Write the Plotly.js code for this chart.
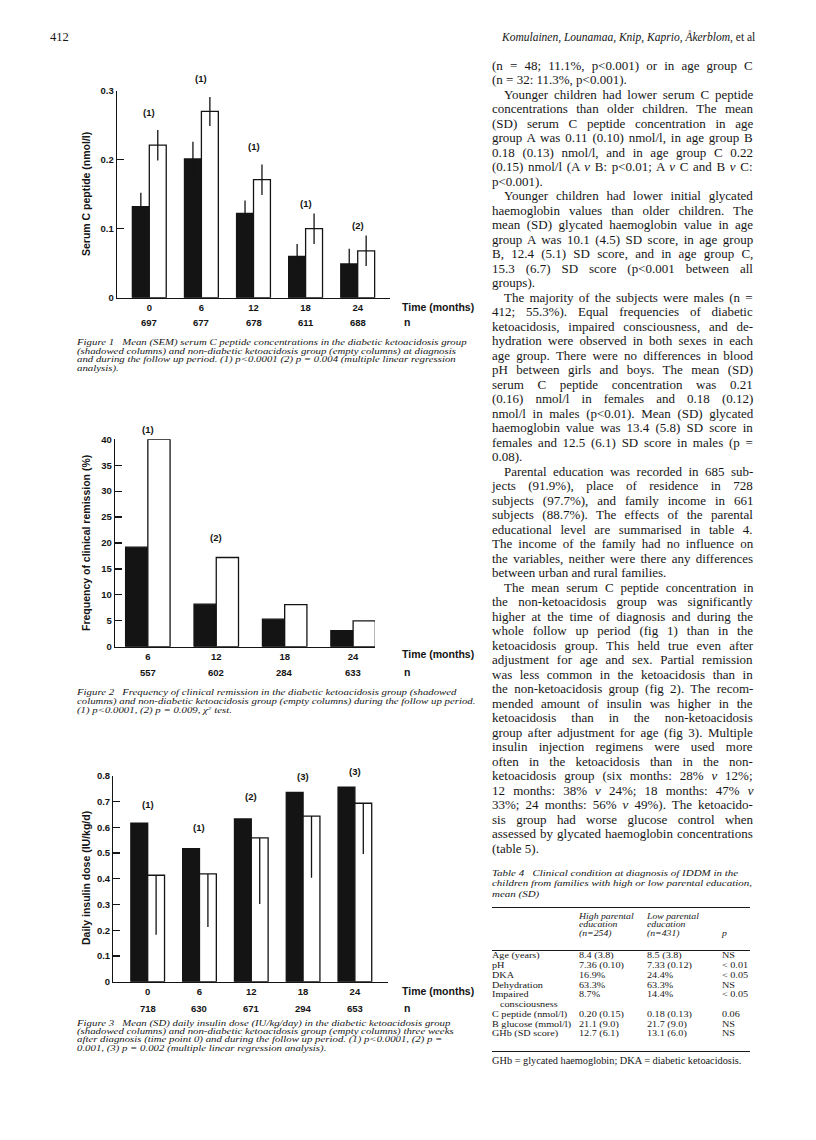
<!DOCTYPE html>
<html><head><meta charset="utf-8">
<script src="https://cdn.plot.ly/plotly-3.0.1.min.js"></script>
<style>
body{margin:0;background:#fff}
#page{position:relative;width:816px;height:1140px;overflow:hidden;background:#fff}
#plot{position:absolute;left:0;top:0;width:816px;height:1140px}
.t{position:absolute;white-space:nowrap;color:#161616;font-family:'Liberation Serif','Times New Roman',serif}
.blk{position:absolute;color:#161616;font-family:'Liberation Serif','Times New Roman',serif;font-style:italic;transform-origin:0 0}
.blk div{white-space:nowrap}
</style>
</head><body>
<div id="page"><div id="plot"></div></div>
<script>
// ---------- DATA ----------
// Figure 1: serum C peptide (nmol/l), mean (SEM)
const fig1Times = ['0','6','12','18','24'];
const fig1N = ['697','677','678','611','688'];
const fig1Dka = [0.132, 0.201, 0.122, 0.060, 0.049];
const fig1DkaSem = [0.020, 0.025, 0.019, 0.018, 0.022];
const fig1NonDka = [0.221, 0.270, 0.171, 0.100, 0.068];
const fig1NonDkaSem = [0.022, 0.021, 0.022, 0.022, 0.022];
const fig1Sig = ['(1)','(1)','(1)','(1)','(2)'];

// Figure 2: frequency of clinical remission (%)
const fig2Times = ['6','12','18','24'];
const fig2N = ['557','602','284','633'];
const fig2Dka = [19.2, 8.2, 5.3, 3.1];
const fig2NonDka = [40.0, 17.2, 8.1, 5.0];
const fig2Sig = ['(1)','(2)','',''];

// Figure 3: daily insulin dose (IU/kg/d), mean (SD)
const fig3Times = ['0','6','12','18','24'];
const fig3N = ['718','630','671','294','653'];
const fig3Dka = [0.617, 0.517, 0.633, 0.736, 0.757];
const fig3NonDka = [0.414, 0.419, 0.559, 0.644, 0.694];
const fig3NonDkaSd = [0.231, 0.206, 0.257, 0.240, 0.197];
const fig3Sig = ['(1)','(1)','(2)','(3)','(3)'];

// Table 4
const tableCols = ['High parental<br>education<br>(n=254)', 'Low parental<br>education<br>(n=431)', 'p'];
const tableLabels = ['Age (years)','pH','DKA','Dehydration','Impaired|consciousness','C peptide (nmol/l)','B glucose (mmol/l)','GHb (SD score)'];
const tableHigh = ['8.4 (3.8)','7.36 (0.10)','16.9%','63.3%','8.7%','0.20 (0.15)','21.1 (9.0)','12.7 (6.1)'];
const tableLow = ['8.5 (3.8)','7.33 (0.12)','24.4%','63.3%','14.4%','0.18 (0.13)','21.7 (9.0)','13.1 (6.0)'];
const tableP = ['NS','< 0.01','< 0.05','NS','< 0.05','0.06','NS','NS'];

// ---------- LAYOUT HELPERS ----------
const W = 816, H = 1140;
const px = x => x / W;
const py = y => (H - y) / H;
const sans = 'Liberation Sans, Arial, Helvetica, sans-serif';
const ink = '#141414';
const tf = (s) => ({family: sans, size: s, color: ink, weight: 'bold'});

function bars(x, y, fill, xa, ya, err) {
  const t = {type:'bar', x:x, y:y, xaxis:xa, yaxis:ya, marker:{color:fill, line:{color:ink, width:1.3}},
    hoverinfo:'skip', showlegend:false, cliponaxis:false};
  if (err) t.error_y = Object.assign({type:'data', visible:true, color:ink, thickness:1.3, width:0}, err);
  return t;
}

const data = [
  bars(fig1Times, fig1Dka, ink, 'x', 'y', {array: fig1DkaSem}),
  bars(fig1Times, fig1NonDka, '#ffffff', 'x', 'y', {array: fig1NonDkaSem}),
  bars(fig2Times, fig2Dka, ink, 'x2', 'y2'),
  bars(fig2Times, fig2NonDka, '#ffffff', 'x2', 'y2'),
  bars(fig3Times, fig3Dka, ink, 'x3', 'y3'),
  bars(fig3Times, fig3NonDka, '#ffffff', 'x3', 'y3', {symmetric:false, array: fig3NonDkaSd.map(() => 0), arrayminus: fig3NonDkaSd})
];

function xax(l, r, anchor, range) {
  return {domain:[px(l), px(r)], anchor:anchor, type:'category', range:range, showline:true, linecolor:ink, linewidth:1.3,
    ticks:'', showgrid:false, zeroline:false, tickfont:tf(9.5), fixedrange:true, ticklabelstandoff:1};
}
function yax(top, bottom, anchor, range, dtick) {
  return {domain:[py(bottom), py(top)], anchor:anchor, range:range, dtick:dtick, tick0:0, ticks:'inside', ticklen:7,
    tickwidth:1.3, tickcolor:ink, showline:true, linecolor:ink, linewidth:1.3, showgrid:false, zeroline:false,
    tickfont:tf(9.5), fixedrange:true};
}

const annotations = [];
function ann(o) { annotations.push(Object.assign({showarrow:false, xanchor:'center', yanchor:'middle', font:tf(9.5)}, o)); }

function figText(xa, ya, times, ns, nY, timeY, titleText, titleY, sig, sigTop, sigShift) {
  times.forEach((t, i) => {
    ann({xref:xa, yref:'paper', x:i, y:py(nY), text:ns[i], font:tf(9.5)});
    if (sig[i]) ann({xref:xa, yref:ya, x:i, y:sigTop[i], yshift:sigShift[i], text:sig[i], font:tf(9.5)});
  });
  ann({xref:'paper', yref:'paper', x:px(400), xanchor:'left', y:py(timeY), text:'Time (months)', font:tf(10.5)});
  ann({xref:'paper', yref:'paper', x:px(402), xanchor:'left', y:py(nY), text:'n', font:tf(10.5)});
  ann({xref:'paper', yref:'paper', x:px(86), y:py(titleY), textangle:-90, text:titleText, font:tf(10.5)});
}

figText('x', 'y', fig1Times, fig1N, 322, 306.5, 'Serum C peptide (nmol/l)', 194,
  fig1Sig, fig1NonDka.map((v, i) => v + fig1NonDkaSem[i]), [18, 18, 18, 10, 10]);
figText('x2', 'y2', fig2Times, fig2N, 672, 654, 'Frequency of clinical remission (%)', 543,
  fig2Sig, fig2NonDka, [10, 20, 0, 0]);
figText('x3', 'y3', fig3Times, fig3N, 1008, 990.5, 'Daily insulin dose (IU/kg/d)', 878,
  fig3Sig, fig3Dka, [19, 21, 22, 16, 16]);

const layout = {
  width: W, height: H, margin:{l:0, r:0, t:0, b:0}, paper_bgcolor:'#fff', plot_bgcolor:'rgba(0,0,0,0)',
  barmode:'group', bargap:0.35, bargroupgap:0, showlegend:false,
  xaxis: xax(117, 390, 'y', [-0.62, 4.62]),
  yaxis: yax(90.7, 297.7, 'x', [0, 0.3], 0.1),
  xaxis2: xax(115, 375, 'y2', [-0.48, 3.32]),
  yaxis2: yax(439.3, 646.7, 'x2', [0, 40], 5),
  xaxis3: xax(113.3, 388.3, 'y3', [-0.664, 4.645]),
  yaxis3: yax(776, 981.7, 'x3', [0, 0.8], 0.1),
  annotations: annotations
};

Plotly.newPlot('plot', data, layout, {staticPlot:true, displayModeBar:false});

// ---------- PAGE TEXT ----------
const page = document.getElementById('page');
const esc = s => s.replace(/&/g,'&amp;').replace(/</g,'&lt;').replace(/>/g,'&gt;').replace(/\{v\}/g,'<i>v</i>');

function put(html, left, cy, size, lh, extra) {
  const d = document.createElement('div');
  d.className = 't';
  d.style.left = left + 'px';
  d.style.top = (cy - lh / 2) + 'px';
  d.style.fontSize = size + 'px';
  d.style.lineHeight = lh + 'px';
  if (extra) Object.assign(d.style, extra);
  d.innerHTML = html;
  page.appendChild(d);
  return d;
}

// running head
put('412', 50, 37, 12.5, 14);
const head = put('<i>Komulainen, Lounamaa, Knip, Kaprio, Åkerblom,</i> et al', 0, 37, 11.5, 14);
head.style.left = (755 - head.offsetWidth) + 'px';

// captions (italic blocks, widened horizontally like the print)
function block(lines, left, top, size, lh) {
  const b = document.createElement('div');
  b.className = 'blk';
  b.style.left = left + 'px'; b.style.top = top + 'px';
  b.style.fontSize = size + 'px'; b.style.lineHeight = lh + 'px';
  b.innerHTML = lines.map(l => '<div><span>' + l + '</span></div>').join('');
  page.appendChild(b);
  return b;
}
const capSize = 7.4;
const cap1 = block([
  'Figure 1&ensp; Mean (SEM) serum C peptide concentrations in the diabetic ketoacidosis group',
  '(shadowed columns) and non-diabetic ketoacidosis group (empty columns) at diagnosis',
  'and during the follow up period. (1) p&lt;0.0001 (2) p = 0.004 (multiple linear regression',
  'analysis).'], 77, 339, capSize, 8.6);
const capScale = 390 / cap1.querySelector('span').offsetWidth;
const cap2 = block([
  'Figure 2&ensp; Frequency of clinical remission in the diabetic ketoacidosis group (shadowed',
  'columns) and non-diabetic ketoacidosis group (empty columns) during the follow up period.',
  '(1) p&lt;0.0001, (2) p = 0.009, χ<sup style="font-size:5px;line-height:0">2</sup> test.'], 77, 687.5, capSize, 9.2);
const cap3 = block([
  'Figure 3&ensp; Mean (SD) daily insulin dose (IU/kg/day) in the diabetic ketoacidosis group',
  '(shadowed columns) and non-diabetic ketoacidosis group (empty columns) three weeks',
  'after diagnosis (time point 0) and during the follow up period. (1) p&lt;0.0001, (2) p =',
  '0.001, (3) p = 0.002 (multiple linear regression analysis).'], 77, 1019.5, capSize, 8.4);
[cap1, cap2, cap3].forEach(b => b.style.transform = 'scaleX(' + capScale + ')');

// body text column (justified lines)
const bodyLines = [
 ["(n = 48; 11.1%, p<0.001) or in age group C", "j"],
 ["(n = 32: 11.3%, p<0.001).", "e"],
 ["Younger children had lower serum C peptide", "ij"],
 ["concentrations than older children. The mean", "j"],
 ["(SD) serum C peptide concentration in age", "j"],
 ["group A was 0.11 (0.10) nmol/l, in age group B", "j"],
 ["0.18 (0.13) nmol/l, and in age group C 0.22", "j"],
 ["(0.15) nmol/l (A {v} B: p<0.01; A {v} C and B {v} C:", "j"],
 ["p<0.001).", "e"],
 ["Younger children had lower initial glycated", "ij"],
 ["haemoglobin values than older children. The", "j"],
 ["mean (SD) glycated haemoglobin value in age", "j"],
 ["group A was 10.1 (4.5) SD score, in age group", "j"],
 ["B, 12.4 (5.1) SD score, and in age group C,", "j"],
 ["15.3 (6.7) SD score (p<0.001 between all", "j"],
 ["groups).", "e"],
 ["The majority of the subjects were males (n =", "ij"],
 ["412; 55.3%). Equal frequencies of diabetic", "j"],
 ["ketoacidosis, impaired consciousness, and de-", "j"],
 ["hydration were observed in both sexes in each", "j"],
 ["age group. There were no differences in blood", "j"],
 ["pH between girls and boys. The mean (SD)", "j"],
 ["serum C peptide concentration was 0.21", "j"],
 ["(0.16) nmol/l in females and 0.18 (0.12)", "j"],
 ["nmol/l in males (p<0.01). Mean (SD) glycated", "j"],
 ["haemoglobin value was 13.4 (5.8) SD score in", "j"],
 ["females and 12.5 (6.1) SD score in males (p =", "j"],
 ["0.08).", "e"],
 ["Parental education was recorded in 685 sub-", "ij"],
 ["jects (91.9%), place of residence in 728", "j"],
 ["subjects (97.7%), and family income in 661", "j"],
 ["subjects (88.7%). The effects of the parental", "j"],
 ["educational level are summarised in table 4.", "j"],
 ["The income of the family had no influence on", "j"],
 ["the variables, neither were there any differences", "j"],
 ["between urban and rural families.", "e"],
 ["The mean serum C peptide concentration in", "ij"],
 ["the non-ketoacidosis group was significantly", "j"],
 ["higher at the time of diagnosis and during the", "j"],
 ["whole follow up period (fig 1) than in the", "j"],
 ["ketoacidosis group. This held true even after", "j"],
 ["adjustment for age and sex. Partial remission", "j"],
 ["was less common in the ketoacidosis than in", "j"],
 ["the non-ketoacidosis group (fig 2). The recom-", "j"],
 ["mended amount of insulin was higher in the", "j"],
 ["ketoacidosis than in the non-ketoacidosis", "j"],
 ["group after adjustment for age (fig 3). Multiple", "j"],
 ["insulin injection regimens were used more", "j"],
 ["often in the ketoacidosis than in the non-", "j"],
 ["ketoacidosis group (six months: 28% {v} 12%;", "j"],
 ["12 months: 38% {v} 24%; 18 months: 47% {v}", "j"],
 ["33%; 24 months: 56% {v} 49%). The ketoacido-", "j"],
 ["sis group had worse glucose control when", "j"],
 ["assessed by glycated haemoglobin concentrations", "j"],
 ["(table 5).", "e"]
];
const colL = 492, colR = 753, lineH = 14.5, firstY = 66;
bodyLines.forEach(([txt, f], i) => {
  const ind = f.indexOf('i') >= 0 ? 12 : 0;
  const d = put(esc(txt), colL + ind, firstY + i * lineH, 13, lineH);
  if (f.indexOf('j') >= 0) {
    const w = d.offsetWidth;
    const spaces = (txt.match(/ /g) || []).length;
    if (spaces) d.style.wordSpacing = ((colR - colL - ind - w) / spaces) + 'px';
  }
});

// Table 4 caption
const tcap = block(['Table 4&ensp; Clinical condition at diagnosis of IDDM in the',
  'children from families with high or low parental education,', 'mean (SD)'], 492, 868, 9.2, 10.3);
tcap.style.transform = 'scaleX(' + (246 / tcap.querySelector('span').offsetWidth) + ')';

// Table 4 rules
function rule(y, h) {
  const r = document.createElement('div');
  r.style.cssText = 'position:absolute;left:492px;width:258px;background:#1a1a1a;top:' + (y - h / 2) + 'px;height:' + h + 'px';
  page.appendChild(r);
}
rule(907.3, 1.6); rule(950, 0.9); rule(1051.7, 0.9);

// Table 4 header
const colX = [579, 647, 722];
const wide = s => ({transform:'scaleX(' + s + ')', transformOrigin:'0 50%'});
tableCols.forEach((c, j) => {
  const lines = c.split('<br>');
  const start = 934 - (lines.length - 1) * 8.5;
  lines.forEach((l, k) => put(l, colX[j], start + k * 8.5, 7.5, 8.5, Object.assign({fontStyle:'italic'}, wide(1.3))));
});
// Table 4 body
let line = 0;
const rowY = k => 956 + k * 9.78;
const cell = (txt, x) => put(txt, x, rowY(line), 8.7, 9.5, wide(1.17));
tableLabels.forEach((lab, i) => {
  const parts = lab.split('|');
  cell(parts[0], 492);
  cell(tableHigh[i], colX[0]);
  cell(tableLow[i], colX[1]);
  cell(esc(tableP[i]), colX[2]);
  if (parts[1]) { line++; cell(parts[1], 500); }
  line++;
});
put('GHb = glycated haemoglobin; DKA = diabetic ketoacidosis.', 492, 1061, 9.4, 10, wide(1.1));
</script>
</body></html>
